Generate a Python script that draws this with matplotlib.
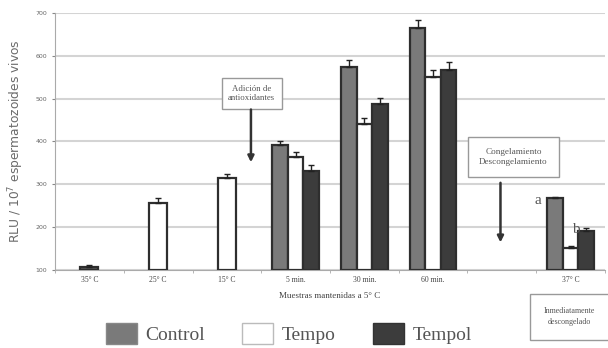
import numpy as np
import matplotlib
matplotlib.use("Agg")
import matplotlib.pyplot as plt
from matplotlib.patches import Patch

categories = ['35° C', '25° C', '15° C', '5 min.', '30 min.', '60 min.', '', '37° C']

# single bars before antioxidant addition (categories 0-2)
pre_values = [108, 256, 315]
pre_errors = [4, 12, 10]

# grouped bars (categories 3, 4, 5, 7)
group_idx = [3, 4, 5, 7]
control = [392, 574, 665, 268]
control_err = [10, 15, 18, 3]
tempo = [364, 441, 551, 151]
tempo_err = [11, 14, 15, 5]
tempol = [331, 488, 567, 191]
tempol_err = [15, 14, 18, 7]

c_control = '#7a7a7a'
c_tempo = '#ffffff'
c_tempol = '#3c3c3c'
edge = '#2e2e2e'
serif = ['Liberation Serif', 'DejaVu Serif']

fig = plt.figure(figsize=(6.08, 3.48), dpi=100)
ax = fig.add_axes([0.0905, 0.224, 0.9045, 0.739])

x = np.arange(len(categories))
err_kw = dict(ecolor='#222222', capsize=2, elinewidth=1, capthick=1)

pre_colors = ['#555555', c_tempo, c_tempo]
for i, v in enumerate(pre_values):
    ax.bar(x[i], v - 100, bottom=100, width=0.26, color=pre_colors[i],
           edgecolor=edge, linewidth=1.6, zorder=3)
    ax.errorbar(x[i], v, yerr=[[0], [pre_errors[i]]], fmt='none', zorder=4, **err_kw)

w = 0.225
gx = x[group_idx]
for off, vals, errs, col in [(-w, control, control_err, c_control),
                             (0, tempo, tempo_err, c_tempo),
                             (w, tempol, tempol_err, c_tempol)]:
    vals = np.array(vals)
    ax.bar(gx + off, vals - 100, bottom=100, width=w, color=col,
           edgecolor=edge, linewidth=1.6, zorder=3)
    ax.errorbar(gx + off, vals, yerr=[np.zeros(len(vals)), errs], fmt='none', zorder=4, **err_kw)

ax.set_xlim(-0.5, len(categories) - 0.5)
ax.set_ylim(100, 700)
ax.set_yticks(range(100, 701, 100))
ax.yaxis.grid(True, color='#d4d4d4', linewidth=1.5, zorder=0)
ax.set_axisbelow(True)
for s in ['top', 'right']:
    ax.spines[s].set_visible(False)
ax.spines['left'].set_color('#aaaaaa')
ax.spines['bottom'].set_color('#aaaaaa')
ax.tick_params(axis='y', labelsize=4.5, colors='#888888', length=2, labelcolor='#666666')
ax.set_xticks(x)
ax.set_xticklabels(categories, fontsize=5.5, family=serif, color='#444444')
ax.tick_params(axis='x', length=0, pad=4)
ax.set_xticks(np.arange(-0.5, len(categories)), minor=True)
ax.tick_params(axis='x', which='minor', length=2, color='#aaaaaa')

ax.set_ylabel('RLU / 10$^7$ espermatozoides vivos', fontsize=8.8, color='#6a6a6a', labelpad=7)
ax.set_xlabel('Muestras mantenidas a 5° C', fontsize=6.5, family=serif, color='#444444', labelpad=6)

ax.text(2.36, 512, 'Adición de\nantioxidantes', ha='center', va='center', fontsize=6.3,
        family=serif, color='#555555', linespacing=1.3, zorder=5,
        bbox=dict(boxstyle='square,pad=0.75', facecolor='white', edgecolor='#999999', linewidth=1))
ax.annotate('', xy=(2.35, 345), xytext=(2.35, 481),
            arrowprops=dict(arrowstyle='-|>', color='#333333', lw=1.8, mutation_scale=9), zorder=5)

ax.text(6.17, 364, 'Congelamiento\nDescongelamiento', ha='center', va='center', fontsize=6.6,
        family=serif, color='#555555', linespacing=1.3, zorder=5,
        bbox=dict(boxstyle='square,pad=1.25', facecolor='white', edgecolor='#999999', linewidth=1))
ax.annotate('', xy=(5.98, 158), xytext=(5.98, 310),
            arrowprops=dict(arrowstyle='-|>', color='#333333', lw=1.8, mutation_scale=9), zorder=5)

ax.text(6.53, 262, 'a', fontsize=11, family=serif, color='#555555', ha='center', va='center')
ax.text(7.07, 194, 'b', fontsize=11, family=serif, color='#555555', ha='center', va='center')

fig.text(0.937, 0.09, 'Inmediatamente\ndescongelado', ha='center', va='center', fontsize=5.8,
         family=serif, color='#555555', linespacing=1.4,
         bbox=dict(boxstyle='square,pad=1.7', facecolor='white', edgecolor='#999999', linewidth=1))

handles = [Patch(facecolor=c_control, edgecolor='#888888', label='Control'),
           Patch(facecolor=c_tempo, edgecolor='#bbbbbb', label='Tempo'),
           Patch(facecolor=c_tempol, edgecolor='#333333', label='Tempol')]
fig.legend(handles=handles, loc='center', bbox_to_anchor=(0.475, 0.042), ncol=3, frameon=False,
           prop={'family': serif, 'size': 14}, handlelength=1.6, handleheight=1.3,
           columnspacing=1.9, handletextpad=0.45, labelcolor='#555555')

fig.savefig('out.png', dpi=100)
